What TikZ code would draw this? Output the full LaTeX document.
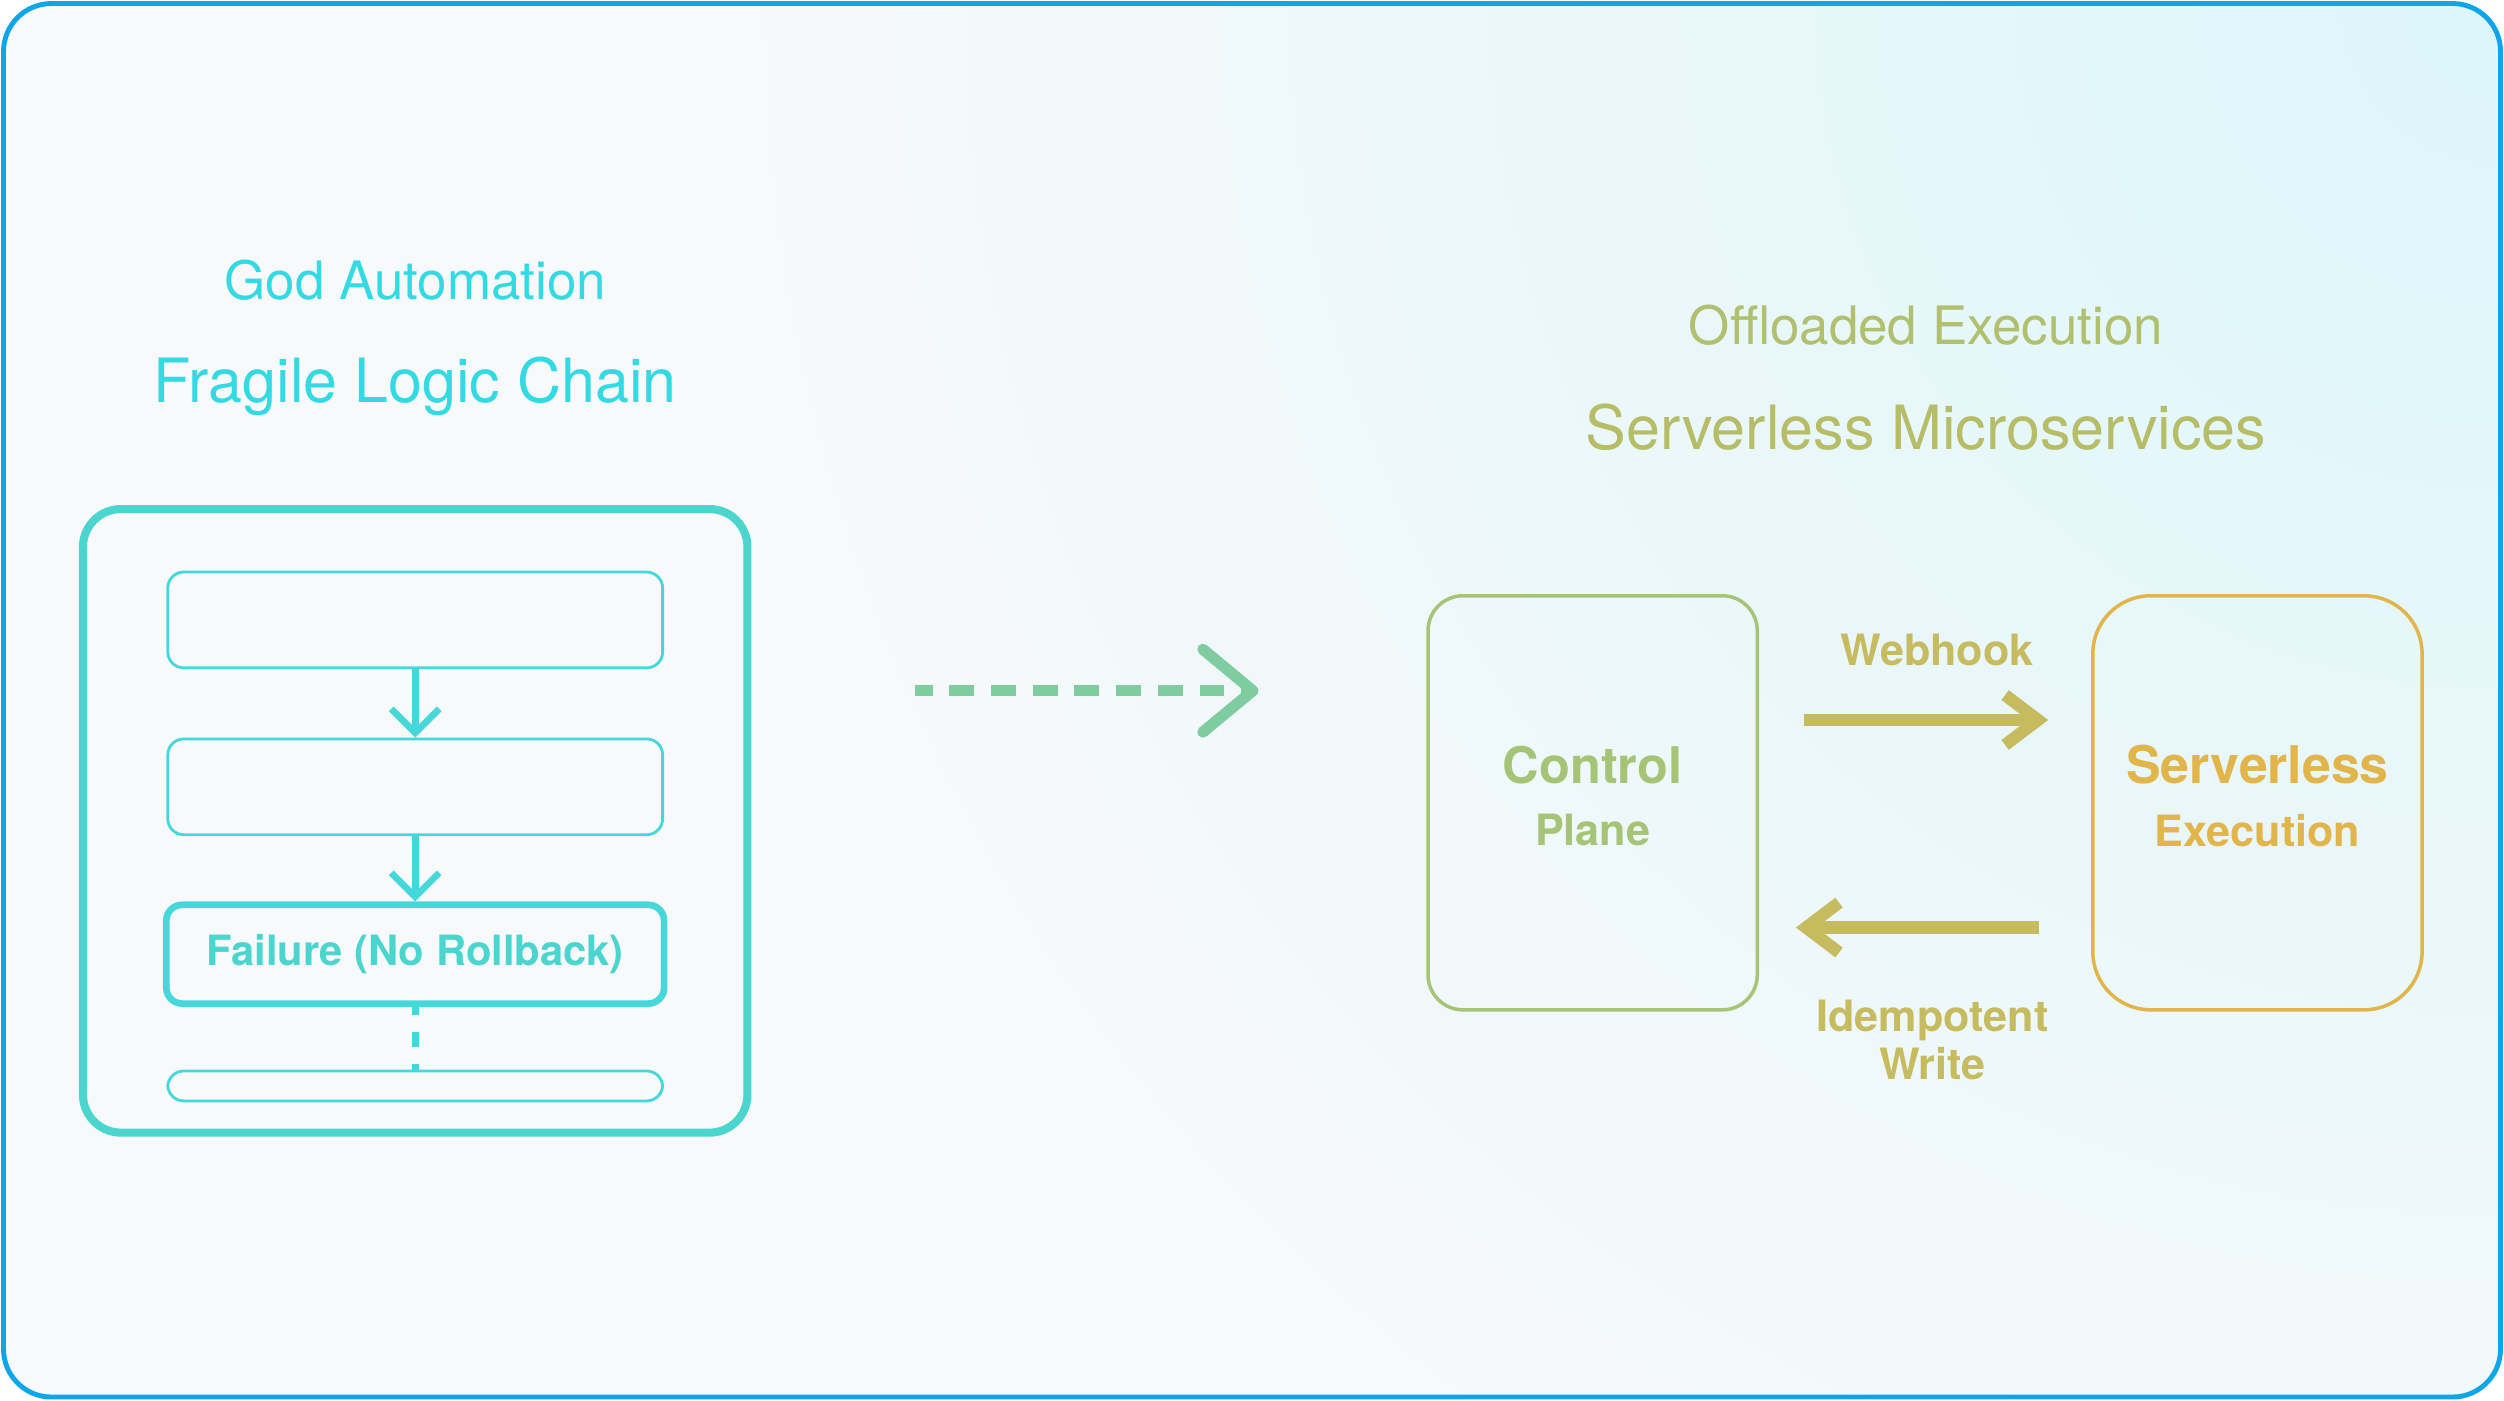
\documentclass[tikz,border=0pt]{standalone}
\usepackage{fontspec}
\setmainfont{TeX Gyre Heros}
\usepackage{tikz}
\usetikzlibrary{arrows.meta}
\definecolor{framecol}{HTML}{0EA5E9}
\definecolor{bgwhite}{HTML}{F8F9FA}
\definecolor{bgcyan}{HTML}{DCF6FA}
\definecolor{chaincyan}{HTML}{33DAE3}
\definecolor{chainteal}{HTML}{4AD5CE}
\definecolor{stepcyan}{HTML}{45D8DA}
\definecolor{flowgreen}{HTML}{7ECCA0}
\definecolor{offgreen}{HTML}{B1C06E}
\definecolor{srvgreen}{HTML}{B6BD66}
\definecolor{ctrlgreen}{HTML}{A6C476}
\definecolor{hookolive}{HTML}{C6BC5F}
\definecolor{execgold}{HTML}{E2B54B}
\tikzset{
    %Define style for headings
    heading/.style={
           anchor=base,
           font=\fontsize{17.4}{20}\selectfont},
    subheading/.style={
           anchor=base,
           font=\fontsize{15.1}{18}\selectfont},
    %Define style for boxes
    chainbox/.style={
           rectangle,
           rounded corners=0.38cm,
           draw=chainteal, line width=2.3pt,
           minimum width=6.66cm,
           minimum height=6.25cm},
    stepbox/.style={
           rectangle,
           rounded corners=0.16cm,
           draw=stepcyan, line width=0.8pt,
           minimum width=4.96cm,
           minimum height=0.96cm},
    failbox/.style={
           stepbox,
           line width=1.9pt,
           minimum width=4.99cm,
           minimum height=0.99cm,
           font=\fontsize{11.9}{14}\selectfont\bfseries,
           text=chainteal},
    tailbox/.style={
           stepbox,
           minimum height=0.3cm},
    planebox/.style={
           rectangle,
           rounded corners=0.35cm,
           draw=ctrlgreen, line width=1pt,
           minimum width=3.3cm,
           minimum height=4.15cm},
    execbox/.style={
           planebox,
           rounded corners=0.58cm,
           draw=execgold},
    boxlabel/.style={
           align=center,
           font=\fontsize{12.3}{17.9}\selectfont\bfseries},
    edgelabel/.style={
           anchor=base,
           align=center,
           text=hookolive,
           font=\fontsize{12.3}{13.6}\selectfont\bfseries},
    % Define arrow styles
    chainarrow/.style={
           draw=stepcyan, line width=1.9pt,
           -{Straight Barb[length=0.24cm, width=0.48cm]}},
    chaindash/.style={
           draw=stepcyan, line width=1.9pt,
           dash pattern=on 0.152cm off 0.168cm,
           dash phase=0.072cm},
    flowarrow/.style={
           draw=flowgreen, line width=3.2pt,
           dash pattern=on 0.25cm off 0.168cm,
           dash phase=0.075cm,
           -{Straight Barb[length=0.5cm, width=0.83cm, round]}},
    hookarrow/.style={
           draw=hookolive, line width=3.5pt,
           -{Straight Barb[length=0.33cm, width=0.5cm]}}
}
\begin{document}
\begin{tikzpicture}[x=0.016cm, y=-0.016cm]
\useasboundingbox (0,0) rectangle (1568,877);
 %background
\begin{scope}
  \clip[rounded corners=0.48cm] (2,2) rectangle (1566,875);
  \fill[bgwhite] (0,0) rectangle (1568,877);
  \shade[inner color=bgcyan, outer color=bgwhite] (1568,0) circle (1150);
\end{scope}
\draw[framecol, line width=1.4pt, rounded corners=0.48cm] (2.2,2.2) rectangle (1565.8,874.8);
 %headings
\node[subheading, text=chaincyan] (godlbl) at (260,187.5) {God Automation};
\node[heading, text=chaincyan] (fraglbl) at (260,252) {Fragile Logic Chain};
\node[subheading, text=offgreen] (offlbl) at (1206,216) {Offloaded Execution};
\node[heading, text=srvgreen] (srvlbl) at (1206,281.3) {Serverless Microservices};
 %left chain
\node[chainbox] (chain) at (260,514) {};
\node[stepbox] (s1) at (260,388.2) {};
\node[stepbox] (s2) at (260,492.7) {};
\node[failbox] (fail) at (260,597.5) {Failure (No Rollback)};
\node[tailbox] (s4) at (260,680) {};
\draw[chainarrow] (s1) -- (s2);
\draw[chainarrow] (s2) -- (fail);
\draw[chaindash] (fail) -- (s4);
 %transition
\coordinate (flowL) at (573,432.5);
\coordinate (flowR) at (788,432.5);
\draw[flowarrow] (flowL) -- (flowR);
 %right side
\node[planebox] (ctrl) at (997.3,502.7) {};
\node[execbox] (exec) at (1413.6,502.7) {};
\node[boxlabel, text=ctrlgreen] (ctrllbl) at (997.3,498.5) {{\fontsize{14.4}{17.9}\selectfont Control}\\Plane};
\node[boxlabel, text=execgold] (execlbl) at (1413.6,498.5) {{\fontsize{14.8}{17.9}\selectfont Serverless}\\Execution};
\draw[hookarrow, shorten <=0.45cm, shorten >=0.43cm] ([yshift=0.83cm]ctrl.east) -- ([yshift=0.83cm]exec.west);
\draw[hookarrow, shorten <=0.52cm, shorten >=0.37cm] ([yshift=-1.25cm]exec.west) -- ([yshift=-1.25cm]ctrl.east);
\node[edgelabel] (hooklbl) at (1213,417) {Webhook};
\node[edgelabel] (writelbl) at (1210,676) {Idempotent\\Write};
\end{tikzpicture}
\end{document}
